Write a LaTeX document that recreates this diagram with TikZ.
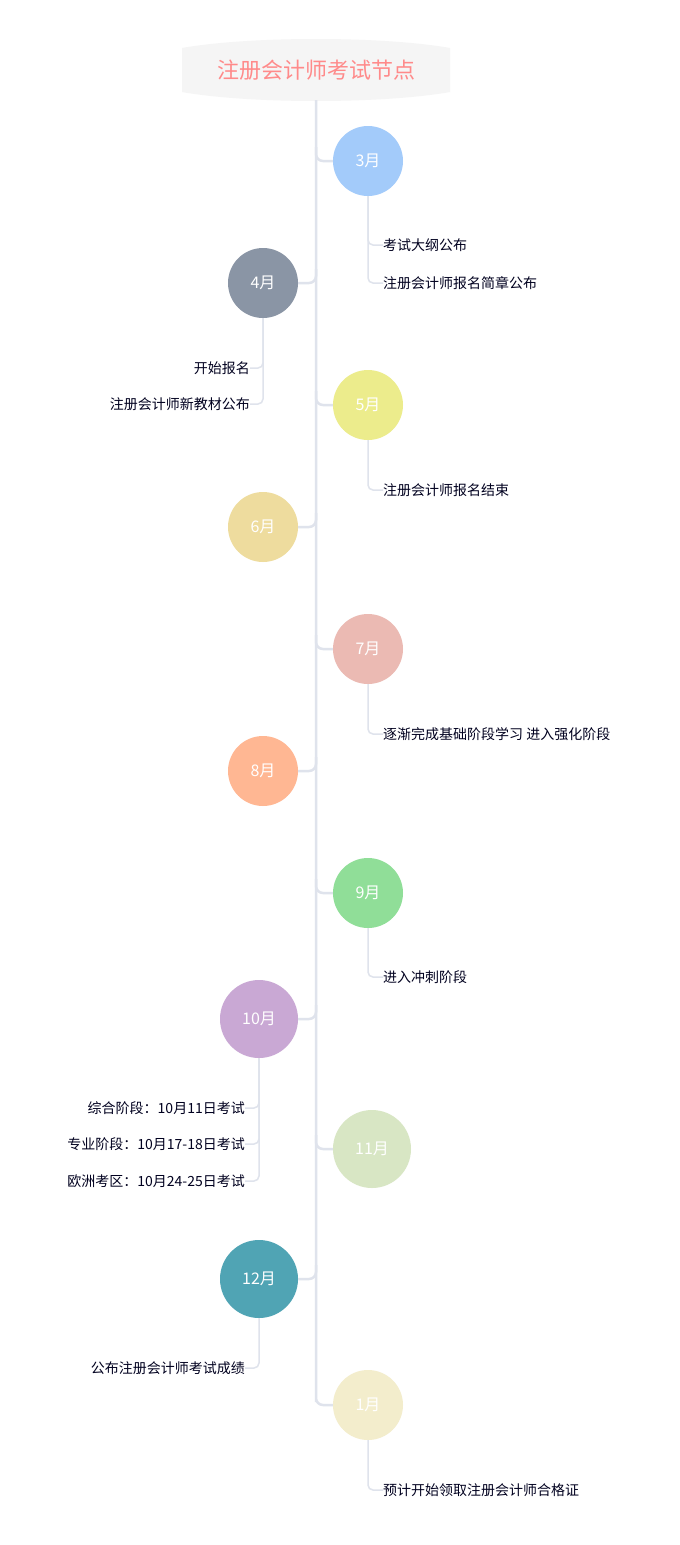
\documentclass[tikz,border=0pt]{standalone}
\usepackage{fontspec}
\setmainfont{Noto Sans CJK SC}
\begin{document}
\begin{tikzpicture}[x=1pt,y=-1pt,
  mon/.style={circle,minimum size=70pt,inner sep=0pt,text=white,font=\fontsize{16}{18}\selectfont},
  big/.style={mon,minimum size=78pt},
  item/.style={inner sep=0pt,text=black!80!blue!60!black,font=\fontsize{14}{16}\selectfont},
  ln/.style={draw=lineC,line width=1.5pt,rounded corners=5pt},
  sp/.style={draw=lineC,line width=2.5pt,rounded corners=7pt}]
\definecolor{lineC}{HTML}{DFE3EC}
\useasboundingbox (0,0) rectangle (680,1545);
\fill[white] (0,0) rectangle (680,1545);
% title
\fill[black!4] (182,48) .. controls (250,36) and (382,36) .. (450,48) -- (450,92) .. controls (382,104) and (250,104) .. (182,92) -- cycle;
\node[text=red!40!white!90!red, font=\fontsize{22}{24}\selectfont] (title) at (316,70) {注册会计师考试节点};
\coordinate (top) at (316,100);
% months
\node[mon,fill={rgb,255:red,163;green,203;blue,250}] (m3) at (368,161) {3月};
\node[mon,fill={rgb,255:red,138;green,149;blue,165}] (m4) at (263,283) {4月};
\node[mon,fill={rgb,255:red,236;green,236;blue,140}] (m5) at (368,405) {5月};
\node[mon,fill={rgb,255:red,238;green,220;blue,158}] (m6) at (263,527) {6月};
\node[mon,fill={rgb,255:red,235;green,186;blue,179}] (m7) at (368,649) {7月};
\node[mon,fill={rgb,255:red,255;green,183;blue,147}] (m8) at (263,771) {8月};
\node[mon,fill={rgb,255:red,144;green,222;blue,152}] (m9) at (368,893) {9月};
\node[big,fill={rgb,255:red,201;green,168;blue,212}] (m10) at (259,1019) {10月};
\node[big,fill={rgb,255:red,216;green,230;blue,196}] (m11) at (372,1149) {11月};
\node[big,fill={rgb,255:red,80;green,164;blue,180}] (m12) at (259,1279) {12月};
\node[mon,fill={rgb,255:red,243;green,237;blue,204}] (m1) at (368,1405) {1月};
% spine
\draw[sp] (top) -- (316,1395) -- ++(0,10) -- (m1.west);
\foreach \n/\y in {3/161,5/405,7/649,9/893,11/1149}{
  \coordinate (s\n) at (316,\y-14);
  \draw[sp] (s\n) |- (m\n.west);}
\foreach \n/\y in {4/283,6/527,8/771,10/1019,12/1279}{
  \coordinate (s\n) at (316,\y-14);
  \draw[sp] (s\n) |- (m\n.east);}
% right items
\node[item,anchor=west] (a1) at (383,245) {考试大纲公布};
\node[item,anchor=west] (a2) at (383,283) {注册会计师报名简章公布};
\draw[ln] (m3.south) |- (a1.west);
\draw[ln] (m3.south) |- (a2.west);
\node[item,anchor=west] (c1) at (383,490) {注册会计师报名结束};
\draw[ln] (m5.south) |- (c1.west);
\node[item,anchor=west] (e1) at (383,734) {逐渐完成基础阶段学习 进入强化阶段};
\draw[ln] (m7.south) |- (e1.west);
\node[item,anchor=west] (g1) at (383,977) {进入冲刺阶段};
\draw[ln] (m9.south) |- (g1.west);
\node[item,anchor=west] (j1) at (383,1490) {预计开始领取注册会计师合格证};
\draw[ln] (m1.south) |- (j1.west);
% left items
\node[item,anchor=east] (b1) at (250,368) {开始报名};
\node[item,anchor=east] (b2) at (250,404) {注册会计师新教材公布};
\draw[ln] (m4.south) |- (b1.east);
\draw[ln] (m4.south) |- (b2.east);
\node[item,anchor=east] (h1) at (245,1108) {综合阶段：10月11日考试};
\node[item,anchor=east] (h2) at (245,1144) {专业阶段：10月17-18日考试};
\node[item,anchor=east] (h3) at (245,1181) {欧洲考区：10月24-25日考试};
\draw[ln] (m10.south) |- (h1.east);
\draw[ln] (m10.south) |- (h2.east);
\draw[ln] (m10.south) |- (h3.east);
\node[item,anchor=east] (k1) at (245,1368) {公布注册会计师考试成绩};
\draw[ln] (m12.south) |- (k1.east);
\end{tikzpicture}
\end{document}
